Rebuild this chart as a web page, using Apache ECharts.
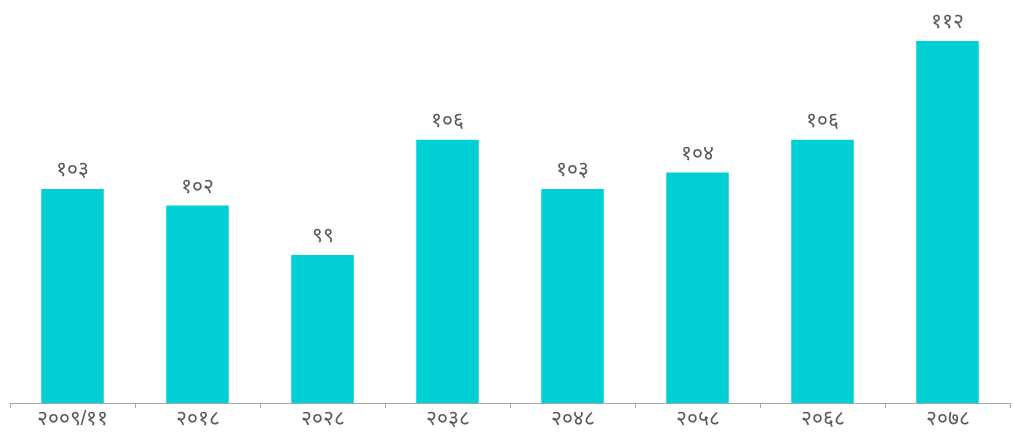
<!DOCTYPE html>
<html>
<head>
<meta charset="utf-8">
<script src="https://cdn.jsdelivr.net/npm/echarts@6/dist/echarts.min.js"></script>
<style>
  html, body { margin: 0; padding: 0; background: #ffffff; }
  #chart { width: 1013px; height: 439px; }
</style>
</head>
<body>
<div id="chart"></div>
<script>
// Census years (Bikram Sambat) and the sex ratio recorded in each
const categories = ['२००९/११', '२०१८', '२०२८', '२०३८', '२०४८', '२०५८', '२०६८', '२०७८'];
const values = [103, 102, 99, 106, 103, 104, 106, 112];

// Render numbers with Devanagari digits
const devDigits = ['०', '१', '२', '३', '४', '५', '६', '७', '८', '९'];
function toDevanagari(n) {
  return String(n).replace(/[0-9]/g, d => devDigits[+d]);
}

const chart = echarts.init(document.getElementById('chart'));
chart.setOption({
  animation: false,
  grid: { left: 10, right: 3, top: 8, bottom: 36, containLabel: false },
  xAxis: {
    type: 'category',
    data: categories,
    boundaryGap: true,
    axisLine: { lineStyle: { color: '#a6a6a6', width: 1 } },
    axisTick: { show: true, alignWithLabel: false, length: 5, lineStyle: { color: '#a6a6a6' } },
    axisLabel: { color: '#5a5a5a', fontSize: 21, margin: 6, fontFamily: 'sans-serif' }
  },
  yAxis: {
    type: 'value',
    min: 90,
    max: 114,
    show: false,
    splitLine: { show: false }
  },
  series: [{
    type: 'bar',
    data: values,
    barWidth: '50%',
    itemStyle: { color: '#00cfd3' },
    label: {
      show: true,
      position: 'top',
      distance: 8,
      color: '#5a5a5a',
      fontSize: 21,
      fontFamily: 'sans-serif',
      formatter: p => toDevanagari(p.value)
    }
  }]
});
</script>
</body>
</html>
